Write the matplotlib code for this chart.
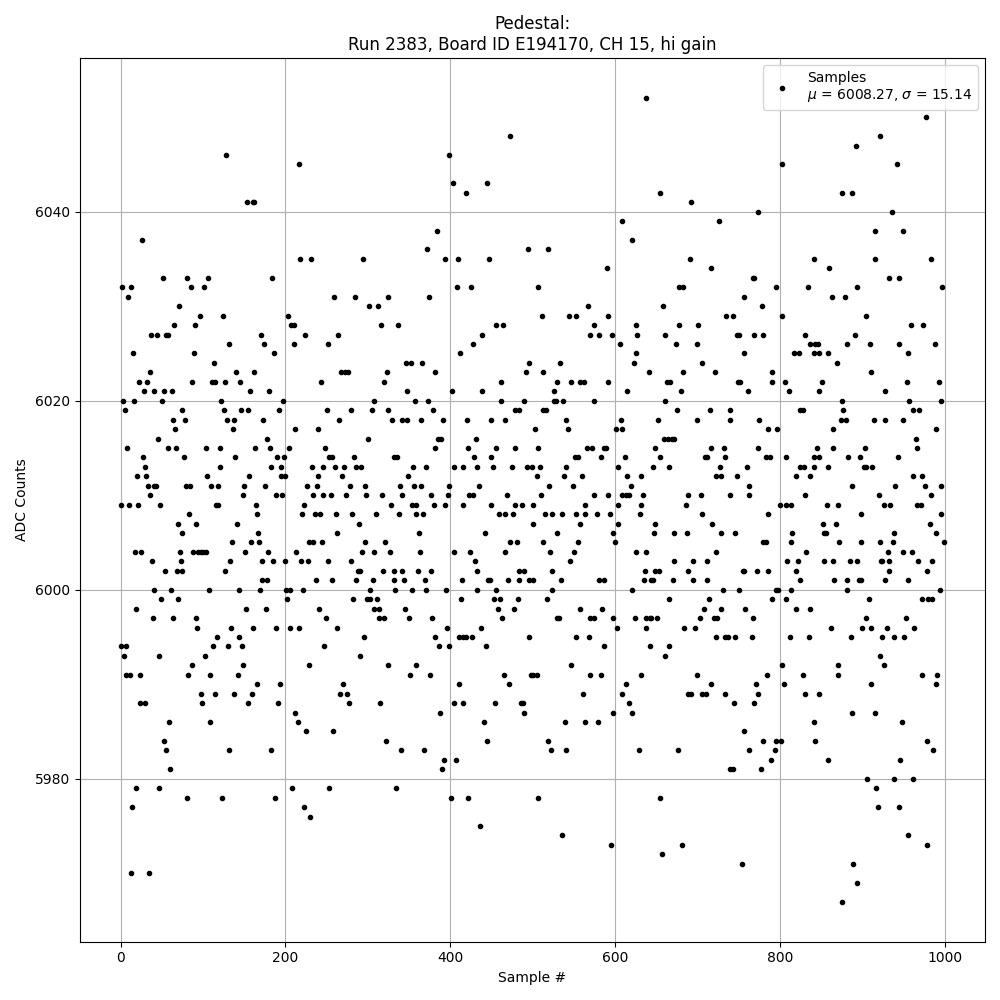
import matplotlib
matplotlib.use('Agg')
import matplotlib.pyplot as plt

# (sample #, ADC counts), grouped by sample range
pts_000_075 = [(26,6037),(51,6033),(2,6032),(12,6032),(9,6031),(71,6030),(65,6028),(37,6027),(44,6027),(55,6027),(57,6027),(15,6025),(35,6023),(22,6022),(32,6022),(28,6021),(40,6021),(52,6021),(62,6021),(3,6020),(16,6020),(50,6020),(5,6019),(74,6019),(63,6018),(66,6017),(45,6016),(8,6015),(57,6015),(67,6015),(27,6014),(29,6013),(20,6012),(31,6012),(33,6011),(40,6011),(43,6011),(35,6010),(0,6009),(10,6009),(21,6009),(48,6009),(69,6007),(75,6006),(17,6004),(25,6004),(72,6004),(38,6003),(73,6003),(54,6002),(68,6002),(74,6002),(40,6000),(61,6000),(49,5999),(69,5999),(19,5998),(39,5997),(63,5997),(0,5994),(6,5994),(4,5993),(46,5993),(6,5991),(11,5991),(23,5991),(23,5988),(29,5988),(59,5986),(52,5984),(55,5983),(60,5981),(19,5979),(46,5979),(14,5977),(12,5970),(34,5970)]
pts_076_160 = [(128,6046),(153,6041),(160,6041),(81,6033),(85,6032),(106,6033),(101,6032),(96,6029),(124,6029),(90,6028),(131,6026),(89,6025),(113,6024),(140,6023),(87,6022),(111,6022),(114,6022),(127,6022),(145,6022),(157,6021),(122,6020),(78,6018),(125,6019),(129,6018),(137,6018),(146,6019),(154,6019),(136,6017),(104,6015),(120,6015),(139,6014),(77,6014),(120,6013),(105,6012),(156,6012),(79,6011),(84,6011),(110,6011),(118,6011),(150,6011),(148,6010),(116,6009),(118,6009),(83,6008),(91,6007),(141,6007),(135,6005),(158,6005),(88,6004),(94,6004),(97,6004),(100,6004),(104,6004),(151,6004),(133,6003),(127,6002),(107,6000),(144,6000),(152,5998),(91,5997),(93,5996),(160,5996),(117,5995),(134,5996),(144,5995),(112,5994),(130,5994),(147,5994),(102,5993),(87,5992),(148,5992),(82,5991),(108,5991),(142,5991),(97,5989),(114,5989),(137,5989),(159,5989),(99,5988),(154,5988),(108,5986),(131,5983),(81,5978),(123,5978)]
pts_161_245 = [(216,6045),(162,6041),(218,6035),(231,6035),(184,6033),(203,6029),(207,6028),(210,6028),(170,6027),(224,6027),(174,6026),(210,6026),(186,6025),(162,6023),(243,6022),(180,6021),(197,6020),(192,6019),(173,6018),(211,6017),(239,6017),(178,6016),(163,6015),(181,6015),(204,6015),(190,6014),(198,6014),(182,6013),(194,6013),(232,6013),(245,6013),(194,6012),(199,6012),(239,6012),(175,6011),(226,6011),(238,6011),(188,6010),(196,6010),(233,6010),(245,6010),(164,6009),(222,6009),(165,6008),(220,6008),(236,6008),(242,6008),(167,6006),(168,6005),(228,6005),(234,6005),(244,6005),(179,6004),(213,6004),(171,6003),(185,6003),(199,6003),(219,6003),(227,6003),(171,6001),(178,6001),(237,6001),(169,6000),(201,6000),(205,6000),(221,6000),(202,5999),(176,5998),(241,5998),(188,5996),(205,5996),(216,5996),(228,5992),(165,5990),(193,5990),(191,5988),(211,5987),(215,5986),(225,5985),(182,5983),(208,5979),(187,5978),(222,5977),(230,5976)]
pts_246_330 = [(294,6035),(259,6031),(284,6031),(324,6031),(301,6030),(312,6030),(316,6028),(264,6027),(252,6026),(267,6023),(272,6023),(276,6023),(323,6023),(319,6022),(308,6020),(250,6019),(279,6019),(305,6019),(325,6019),(265,6018),(329,6018),(300,6016),(248,6015),(253,6014),(256,6014),(283,6014),(260,6013),(271,6013),(285,6013),(292,6013),(268,6012),(278,6011),(296,6011),(255,6010),(273,6010),(298,6010),(317,6010),(328,6009),(261,6008),(281,6008),(310,6008),(289,6007),(262,6006),(296,6005),(321,6005),(293,6004),(307,6004),(327,6004),(252,6003),(279,6003),(288,6002),(290,6002),(318,6002),(256,6001),(285,6001),(306,6001),(302,6000),(282,5999),(299,5999),(302,5999),(311,5999),(307,5998),(313,5998),(313,5997),(319,5997),(249,5997),(262,5996),(295,5995),(247,5994),(290,5993),(324,5992),(270,5990),(266,5989),(275,5989),(277,5988),(315,5988),(258,5985),(322,5984),(253,5979)]
pts_331_415 = [(398,6046),(403,6043),(384,6038),(372,6036),(393,6035),(409,6035),(408,6032),(374,6031),(336,6028),(412,6025),(346,6024),(352,6024),(366,6024),(382,6023),(347,6021),(402,6021),(357,6020),(373,6020),(379,6019),(341,6018),(347,6018),(364,6018),(391,6018),(385,6016),(389,6016),(381,6015),(332,6014),(335,6014),(355,6013),(370,6013),(405,6013),(416,6013),(349,6012),(339,6011),(356,6011),(364,6011),(398,6011),(342,6010),(376,6010),(397,6010),(353,6009),(358,6009),(380,6009),(393,6009),(415,6009),(338,6008),(359,6008),(367,6008),(362,6006),(363,6004),(404,6004),(332,6002),(341,6002),(361,6002),(376,6002),(332,6001),(344,6001),(369,6001),(414,6001),(333,6000),(353,6000),(370,6000),(395,6000),(413,5999),(345,5998),(350,5997),(378,5997),(396,5996),(381,5995),(410,5995),(416,5995),(386,5994),(399,5994),(358,5992),(351,5991),(375,5991),(410,5990),(404,5988),(415,5988),(387,5987),(340,5983),(368,5983),(392,5982),(407,5982),(390,5981),(334,5979),(401,5978)]
pts_416_500 = [(472,6048),(419,6042),(444,6043),(494,6036),(447,6035),(425,6032),(455,6028),(464,6028),(427,6026),(438,6027),(492,6023),(496,6024),(439,6021),(461,6022),(461,6020),(489,6020),(479,6019),(484,6019),(420,6018),(449,6018),(466,6018),(431,6016),(421,6015),(455,6015),(478,6015),(429,6014),(450,6014),(432,6013),(452,6013),(475,6013),(493,6013),(499,6013),(435,6011),(423,6010),(427,6010),(469,6010),(449,6009),(478,6009),(487,6009),(459,6008),(466,6008),(476,6008),(442,6006),(472,6005),(481,6005),(467,6004),(424,6004),(430,6003),(433,6002),(483,6002),(489,6002),(446,6001),(448,6001),(470,6001),(483,6001),(495,6001),(432,6000),(456,6000),(453,5999),(460,5999),(482,5999),(458,5998),(477,5998),(463,5997),(437,5996),(419,5995),(426,5995),(495,5995),(443,5994),(465,5991),(471,5990),(498,5991),(454,5988),(486,5988),(488,5988),(490,5987),(441,5986),(444,5984),(421,5978),(436,5975)]
pts_501_585 = [(518,6036),(507,6032),(511,6029),(544,6029),(552,6029),(567,6030),(574,6028),(570,6027),(580,6027),(512,6023),(533,6024),(526,6021),(529,6022),(547,6022),(557,6022),(562,6022),(513,6019),(516,6019),(526,6020),(528,6020),(537,6020),(575,6020),(503,6017),(540,6018),(543,6017),(506,6015),(566,6015),(572,6015),(551,6014),(555,6014),(583,6014),(509,6013),(540,6013),(505,6012),(538,6012),(560,6012),(520,6011),(549,6011),(510,6010),(574,6010),(501,6009),(564,6009),(515,6008),(524,6008),(535,6008),(552,6008),(563,6008),(578,6008),(501,6007),(558,6007),(530,6006),(513,6005),(555,6005),(521,6004),(550,6004),(545,6003),(523,6002),(501,6001),(534,6001),(580,6001),(523,6000),(517,5999),(557,5998),(584,5998),(529,5997),(532,5997),(569,5997),(574,5997),(553,5995),(568,5995),(546,5992),(501,5991),(505,5991),(569,5991),(583,5991),(561,5989),(539,5986),(563,5986),(579,5986),(518,5984),(522,5983),(541,5983),(506,5978),(535,5974)]
pts_586_670 = [(638,6052),(654,6042),(608,6039),(620,6037),(590,6034),(658,6030),(591,6029),(626,6028),(596,6027),(627,6027),(660,6027),(606,6026),(625,6025),(623,6024),(641,6023),(615,6021),(591,6022),(663,6022),(667,6022),(661,6020),(607,6018),(652,6018),(601,6017),(608,6017),(648,6015),(659,6016),(664,6016),(669,6016),(586,6015),(589,6015),(612,6014),(655,6014),(603,6013),(646,6013),(665,6013),(614,6012),(631,6012),(619,6011),(609,6010),(613,6010),(617,6010),(634,6010),(592,6010),(603,6009),(632,6009),(594,6008),(630,6008),(649,6007),(604,6007),(597,6006),(647,6006),(600,6005),(625,6004),(637,6004),(636,6002),(648,6002),(653,6002),(635,6001),(643,6001),(646,6001),(670,6001),(587,6001),(621,6000),(666,5999),(597,5997),(624,5997),(638,5997),(642,5997),(644,5997),(651,5997),(602,5996),(637,5996),(586,5994),(642,5994),(665,5994),(660,5993),(631,5991),(613,5990),(609,5989),(617,5988),(620,5987),(598,5987),(629,5983),(654,5978),(595,5973),(657,5972)]
pts_671_755 = [(692,6041),(726,6039),(691,6035),(716,6034),(678,6032),(682,6032),(677,6028),(701,6028),(735,6029),(743,6029),(674,6026),(699,6026),(748,6027),(751,6027),(705,6024),(682,6023),(721,6023),(749,6022),(752,6022),(680,6021),(675,6019),(715,6019),(739,6019),(700,6018),(739,6018),(671,6016),(717,6015),(732,6015),(709,6014),(712,6014),(733,6014),(727,6013),(722,6012),(729,6012),(748,6012),(688,6010),(704,6010),(740,6010),(686,6009),(706,6008),(718,6007),(671,6006),(687,6006),(728,6006),(745,6006),(722,6004),(672,6003),(695,6003),(711,6003),(688,6002),(755,6002),(694,6001),(711,6001),(731,6000),(750,6000),(714,5999),(708,5998),(728,5998),(703,5997),(720,5997),(724,5997),(684,5996),(697,5996),(722,5995),(733,5995),(737,5995),(746,5995),(699,5991),(716,5990),(688,5989),(692,5989),(705,5989),(710,5989),(733,5989),(744,5988),(676,5983),(739,5981),(743,5981),(681,5973),(754,5971)]
pts_756_840 = [(802,6045),(774,6040),(767,6033),(769,6033),(757,6031),(795,6032),(834,6032),(778,6030),(802,6029),(769,6027),(780,6027),(830,6027),(837,6026),(756,6025),(817,6025),(823,6025),(790,6023),(791,6022),(806,6022),(761,6021),(811,6021),(825,6019),(828,6019),(775,6018),(786,6017),(797,6017),(773,6015),(783,6014),(788,6014),(808,6014),(760,6013),(824,6013),(829,6013),(820,6012),(836,6012),(762,6011),(763,6010),(831,6010),(785,6008),(800,6009),(807,6009),(814,6009),(815,6006),(813,6005),(780,6005),(783,6005),(832,6004),(809,6003),(822,6003),(756,6002),(772,6002),(785,6002),(820,6002),(825,6001),(795,6000),(798,6000),(813,6000),(791,5999),(807,5999),(758,5998),(819,5998),(836,5998),(767,5997),(766,5995),(812,5995),(835,5995),(803,5992),(784,5991),(828,5991),(771,5990),(805,5990),(773,5989),(830,5989),(768,5988),(756,5985),(762,5983),(779,5984),(795,5984),(801,5984),(794,5983),(789,5982),(777,5981)]
pts_841_923 = [(921,6048),(892,6047),(875,6042),(887,6042),(916,6038),(841,6035),(915,6035),(860,6034),(863,6031),(879,6031),(894,6032),(905,6029),(891,6027),(843,6026),(846,6026),(882,6026),(909,6026),(841,6025),(848,6025),(858,6025),(869,6024),(910,6023),(851,6022),(847,6021),(876,6020),(877,6019),(874,6018),(880,6018),(914,6018),(864,6017),(845,6015),(865,6015),(903,6015),(841,6014),(848,6014),(883,6014),(897,6014),(841,6013),(858,6013),(902,6013),(905,6013),(912,6013),(887,6011),(920,6010),(857,6009),(870,6009),(898,6008),(852,6007),(868,6007),(853,6006),(856,6006),(872,6005),(899,6005),(921,6005),(854,6003),(864,6003),(885,6003),(893,6003),(923,6003),(866,6001),(881,6001),(896,6001),(898,6001),(881,6000),(908,5999),(904,5997),(900,5996),(910,5996),(862,5996),(886,5995),(922,5993),(871,5992),(870,5991),(911,5990),(847,5989),(888,5987),(915,5987),(841,5986),(843,5984),(858,5982),(906,5980),(917,5979),(919,5977),(889,5971),(893,5969),(875,5967)]
pts_924_999 = [(977,6050),(942,6045),(936,6040),(950,6038),(983,6035),(932,6033),(945,6033),(997,6032),(959,6028),(974,6028),(944,6026),(988,6026),(955,6025),(927,6021),(954,6022),(993,6022),(957,6020),(995,6020),(927,6018),(949,6018),(962,6019),(969,6019),(989,6017),(965,6016),(967,6015),(943,6014),(961,6012),(972,6012),(976,6011),(996,6011),(940,6011),(983,6010),(926,6009),(934,6009),(966,6009),(971,6009),(995,6008),(982,6007),(938,6006),(990,6006),(937,6005),(999,6005),(949,6004),(960,6004),(931,6004),(924,6003),(933,6003),(968,6003),(985,6003),(932,6002),(979,6002),(928,6001),(955,6001),(994,6000),(972,5999),(980,5999),(985,5999),(953,5997),(930,5996),(963,5996),(924,5995),(938,5995),(951,5995),(926,5992),(973,5991),(991,5991),(989,5990),(948,5986),(978,5984),(986,5983),(946,5982),(939,5980),(961,5980),(944,5977),(956,5974),(978,5973)]

run_number = 2383
board_id = 'E194170'
channel = 15
gain = 'hi'
mu = 6008.27
sigma = 15.14

all_pts = (pts_000_075 + pts_076_160 + pts_161_245 + pts_246_330 + pts_331_415 + pts_416_500
           + pts_501_585 + pts_586_670 + pts_671_755 + pts_756_840 + pts_841_923 + pts_924_999)
all_pts.sort()
sample_no = [p[0] for p in all_pts]
adc_counts = [p[1] for p in all_pts]

plt.figure(figsize=(10, 10))
plt.plot(sample_no, adc_counts, 'k.', label=f'Samples\n$\\mu$ = {mu:.2f}, $\\sigma$ = {sigma:.2f}')
plt.title(f"Pedestal:\nRun {run_number}, Board ID {board_id}, CH {channel}, {gain} gain")
plt.xlabel("Sample #")
plt.ylabel("ADC Counts")
plt.legend(loc='upper right')
plt.grid()
plt.tight_layout()
plt.savefig('out.png', dpi=100)
plt.close()
